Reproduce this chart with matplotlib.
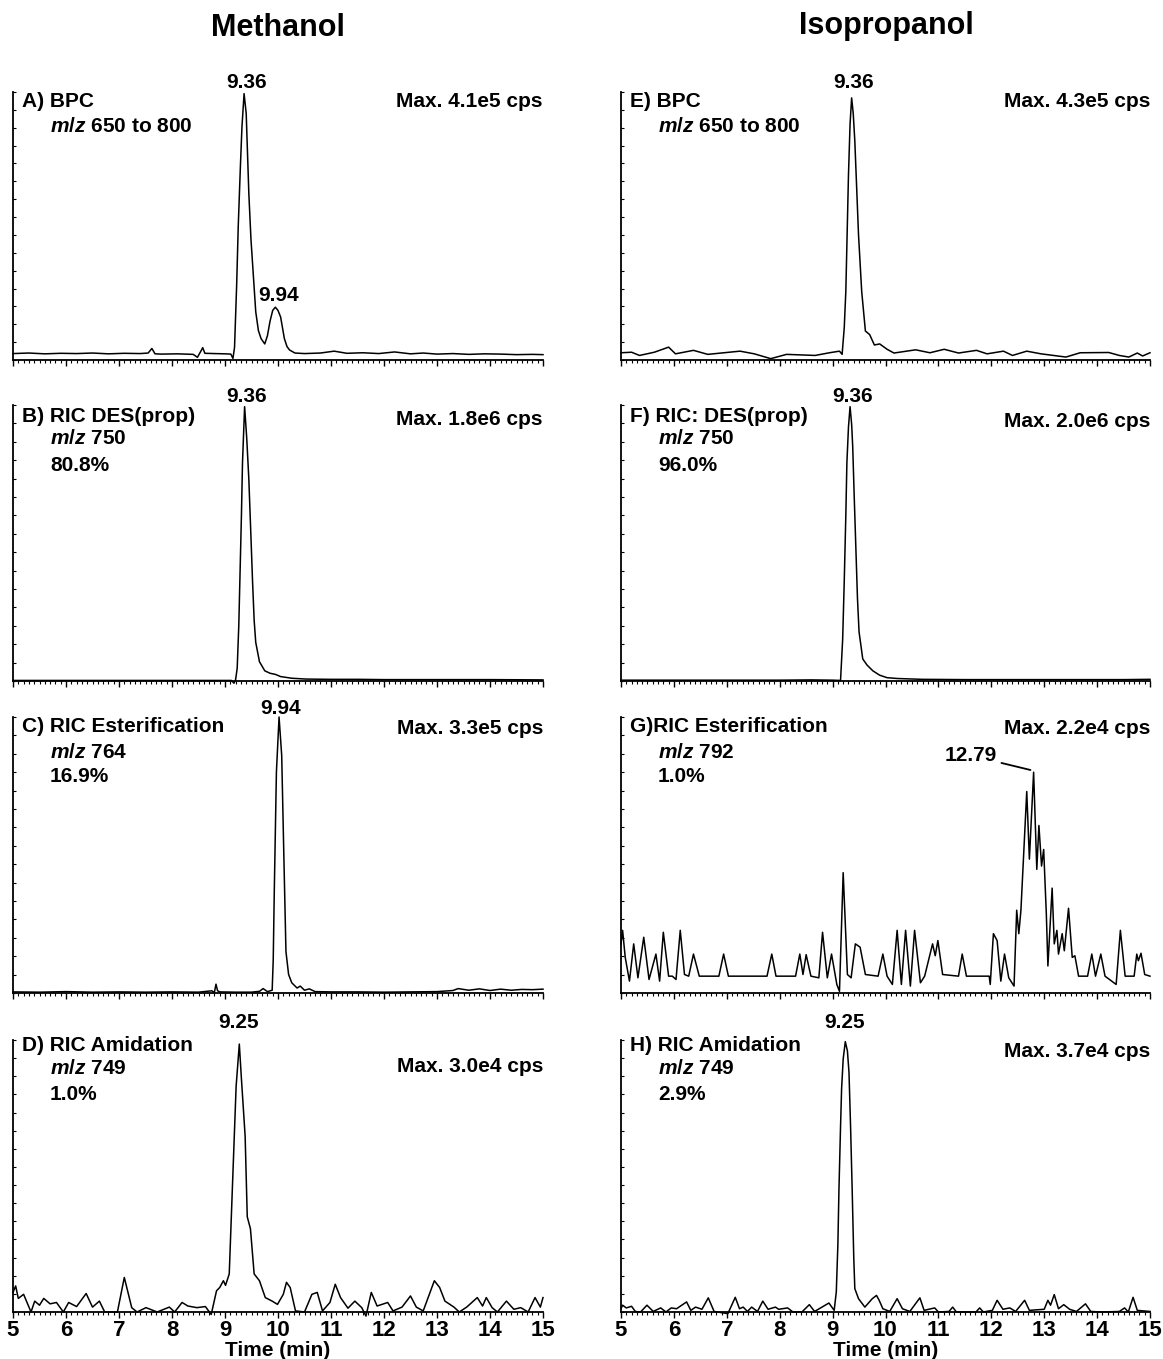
import numpy as np
import matplotlib
matplotlib.use("Agg")
import matplotlib.pyplot as plt
from matplotlib.ticker import MultipleLocator

plt.rcParams['font.family'] = ['Liberation Sans', 'DejaVu Sans']
plt.rcParams['font.weight'] = 'bold'
plt.rcParams['mathtext.fontset'] = 'custom'
plt.rcParams['mathtext.it'] = 'Liberation Sans:italic:bold'
plt.rcParams['mathtext.rm'] = 'Liberation Sans:bold'

# ---- data: time (min) and intensity (% of panel height) ----
# A) Methanol BPC
a_time = [5.0, 5.3, 5.6, 5.9, 6.2, 6.5, 6.8, 7.1, 7.4, 7.55, 7.62, 7.68, 7.8, 8.1, 8.4, 8.48, 8.55,
          8.58, 8.62, 8.8, 9.0, 9.11, 9.15, 9.18, 9.22, 9.25, 9.29, 9.32, 9.36, 9.40, 9.45, 9.49,
          9.53, 9.58, 9.63, 9.68, 9.75, 9.8, 9.85, 9.9, 9.95, 10.0, 10.05, 10.12, 10.17, 10.22,
          10.32, 10.5, 10.8, 11.06, 11.3, 11.6, 11.9, 12.2, 12.5, 12.74, 13.0, 13.3, 13.6, 13.9,
          14.2, 14.5, 14.8, 15.0]
a_int = [2.4, 2.6, 2.3, 2.5, 2.4, 2.6, 2.3, 2.5, 2.4, 2.6, 4.3, 2.3, 2.2, 2.3, 2.1, 1.0, 3.5,
         4.6, 2.5, 2.4, 2.3, 2.2, 0.6, 4.7, 28, 50, 72, 87, 99.4, 92, 62, 45,
         33, 18, 11, 8, 6, 9, 14.5, 18.5, 19.7, 18.5, 16, 8, 5, 3.7,
         2.6, 2.4, 2.6, 3.3, 2.5, 2.7, 2.4, 3.0, 2.3, 2.6, 2.2, 2.4, 2.1, 2.3,
         2.2, 2.0, 2.1, 2.0]

# B) Methanol RIC DES(prop)
b_time = [5.0, 6.0, 7.0, 8.0, 9.0, 9.12, 9.17, 9.2, 9.23, 9.26, 9.28, 9.31, 9.33, 9.37, 9.41,
          9.45, 9.49, 9.52, 9.55, 9.58, 9.65, 9.75, 9.85, 9.95, 10.05, 10.26, 10.53, 11.0, 11.5,
          12.0, 13.0, 14.0, 15.0]
b_int = [0.2, 0.2, 0.2, 0.2, 0.2, 0.2, -0.8, 0.5, 4.6, 20, 36, 60, 79, 99.4, 88,
         73, 52, 36, 22, 14, 7, 3.7, 2.8, 2.4, 1.6, 1.0, 0.7, 0.6, 0.6,
         0.5, 0.5, 0.5, 0.4]

# C) Methanol RIC Esterification
c_time = [5.0, 5.5, 6.0, 6.5, 7.0, 7.5, 8.0, 8.5, 8.75, 8.8, 8.83, 8.86, 8.9, 9.2, 9.5, 9.65,
          9.72, 9.8, 9.89, 9.91, 9.93, 9.97, 10.02, 10.07, 10.11, 10.15, 10.2, 10.26, 10.36,
          10.42, 10.5, 10.59, 10.7, 11.0, 11.5, 12.0, 12.5, 13.0, 13.3, 13.4, 13.6, 13.8, 14.0,
          14.2, 14.4, 14.6, 14.8, 15.0]
c_int = [0.4, 0.3, 0.5, 0.3, 0.4, 0.3, 0.4, 0.3, 0.8, 0.2, 3.2, 0.8, 0.4, 0.3, 0.3, 0.6,
         1.6, 0.5, 1.0, 12, 37, 80, 100, 86, 50, 15, 6.7, 3.7, 1.8,
         2.5, 1.0, 1.5, 0.5, 0.4, 0.4, 0.3, 0.4, 0.5, 0.9, 1.6, 1.0, 1.5, 0.9,
         1.4, 1.0, 1.3, 1.2, 1.4]

# D) Methanol RIC Amidation
d_time = [5.0, 5.05, 5.1, 5.2, 5.34, 5.41, 5.5, 5.58, 5.7, 5.82, 5.95, 6.05, 6.2, 6.38, 6.5,
          6.63, 6.73, 6.97, 7.1, 7.24, 7.34, 7.51, 7.72, 7.95, 8.05, 8.19, 8.3, 8.47, 8.63,
          8.74, 8.84, 8.9, 8.97, 9.01, 9.08, 9.14, 9.21, 9.27, 9.31, 9.38, 9.42, 9.48, 9.55,
          9.65, 9.76, 9.89, 9.99, 10.1, 10.16, 10.23, 10.33, 10.5, 10.64, 10.74, 10.84, 10.98,
          11.08, 11.18, 11.32, 11.45, 11.58, 11.66, 11.76, 11.87, 12.07, 12.17, 12.34, 12.5,
          12.61, 12.74, 12.95, 13.05, 13.15, 13.32, 13.42, 13.56, 13.76, 13.86, 13.93, 14.04,
          14.14, 14.31, 14.45, 14.58, 14.72, 14.85, 14.95, 15.0]
d_int = [7.2, 9.6, 5.0, 6.5, 0.0, 4.0, 2.5, 5.0, 3.0, 3.5, 0.0, 3.5, 2.0, 6.8, 1.8,
         4.0, 0.0, 0.0, 12.7, 1.6, 0.0, 1.6, 0.0, 1.8, 0.0, 3.5, 2.2, 1.6, 2.0,
         -0.9, 7.8, 9.0, 11.5, 9.8, 14.0, 46, 83, 98.5, 85.7, 64.6, 35, 30.6, 14.0,
         11.5, 5.3, 4.0, 2.8, 6.5, 10.9, 9.0, 0.4, 0.0, 6.5, 7.2, 0.4, 3.5,
         10.2, 5.3, 1.4, 4.0, 1.6, -1.5, 7.2, 2.2, 3.5, 0.4, 1.8, 5.9,
         1.8, 0.4, 11.5, 9.0, 4.0, 1.8, 0.0, 1.8, 5.3, 2.2, 5.3, 1.6,
         0.0, 4.0, 1.0, 1.6, 0.0, 5.3, 1.8, 5.3]

# E) Isopropanol BPC
e_time = [5.0, 5.2, 5.35, 5.63, 5.9, 6.03, 6.37, 6.64, 7.25, 7.52, 7.83, 8.13, 8.67, 8.94,
          9.13, 9.18, 9.22, 9.25, 9.3, 9.33, 9.36, 9.39, 9.42, 9.49, 9.55, 9.62, 9.7, 9.79,
          9.89, 10.03, 10.16, 10.57, 10.84, 11.11, 11.38, 11.72, 11.92, 12.23, 12.4, 12.67,
          12.94, 13.41, 13.68, 14.22, 14.42, 14.6, 14.76, 14.86, 15.0]
e_int = [2.7, 2.9, 1.7, 2.9, 4.8, 2.3, 3.6, 2.1, 3.3, 2.3, 0.5, 2.1, 1.7, 2.7,
         3.3, 2.1, 12, 25.6, 69, 88, 97.8, 92, 81.7, 46.7, 25.6, 10.8, 9.5, 5.6,
         6.0, 4.0, 2.6, 3.8, 2.7, 4.0, 2.6, 3.6, 2.3, 3.3, 1.7, 3.3,
         2.3, 1.1, 2.7, 2.8, 1.7, 1.1, 2.6, 1.5, 2.7]

# F) Isopropanol RIC DES(prop)
f_time = [5.0, 6.0, 7.0, 8.0, 8.6, 9.0, 9.15, 9.19, 9.22, 9.25, 9.27, 9.3, 9.33, 9.36, 9.38,
          9.41, 9.44, 9.47, 9.5, 9.57, 9.65, 9.76, 9.89, 10.03, 10.23, 10.7, 11.5, 12.5, 13.5,
          14.5, 15.0]
f_int = [0.3, 0.3, 0.3, 0.3, 0.4, 0.3, 0.2, 15, 36, 60, 79, 92, 99.4, 93, 85,
         66, 48, 30, 17.8, 8.0, 5.8, 3.7, 2.1, 1.2, 0.9, 0.6, 0.5, 0.5, 0.5,
         0.5, 0.6]

# G) Isopropanol RIC Esterification
g_time = [5.0, 5.03, 5.08, 5.16, 5.24, 5.32, 5.43, 5.53, 5.66, 5.73, 5.8, 5.9, 5.97, 6.04,
          6.12, 6.2, 6.28, 6.37, 6.48, 6.85, 6.94, 7.03, 7.76, 7.85, 7.93, 8.3, 8.38, 8.44,
          8.5, 8.59, 8.74, 8.81, 8.9, 8.98, 9.08, 9.13, 9.2, 9.28, 9.35, 9.43, 9.52, 9.62,
          9.86, 9.95, 10.03, 10.13, 10.22, 10.3, 10.38, 10.47, 10.55, 10.66, 10.74, 10.89,
          10.94, 10.99, 11.08, 11.38, 11.45, 11.53, 11.96, 11.98, 12.04, 12.11, 12.18, 12.25,
          12.33, 12.43, 12.48, 12.52, 12.56, 12.67, 12.72, 12.8, 12.86, 12.9, 12.95, 12.99,
          13.04, 13.07, 13.15, 13.19, 13.24, 13.27, 13.34, 13.38, 13.46, 13.53, 13.58, 13.65,
          13.82, 13.9, 13.97, 14.07, 14.15, 14.36, 14.44, 14.53, 14.7, 14.75, 14.78, 14.83,
          14.9, 15.0]
g_int = [17.8, 22.7, 12.9, 4.3, 17.8, 5.5, 20.2, 4.9, 14.1, 4.3, 22.0, 6.1, 6.1, 4.9,
         22.7, 6.7, 6.1, 14.1, 6.1, 6.1, 14.1, 6.1, 6.1, 14.1, 6.1, 6.1, 14.1, 6.7,
         13.9, 6.1, 5.5, 22.0, 5.5, 14.1, 3.1, 0.6, 43.6, 6.7, 5.5, 17.8, 16.6, 6.7,
         6.1, 14.1, 6.1, 3.1, 22.7, 3.1, 22.7, 2.5, 22.7, 3.7, 6.1, 17.8,
         13.5, 19.0, 6.7, 6.1, 14.1, 6.1, 6.1, 3.1, 21.5, 19.0, 4.3, 14.1,
         5.5, 2.5, 30.0, 21.5, 30.0, 73.0, 48.5, 80.0, 44.8, 60.7, 46.0, 52.0,
         28.8, 9.8, 38.0, 17.8, 22.7, 14.1, 21.5, 15.3, 30.7, 12.9, 13.5, 6.1,
         6.1, 14.1, 6.1, 14.1, 6.1, 3.1, 22.7, 6.1, 6.1, 14.1, 11.7, 14.4,
         6.7, 6.1]

# H) Isopropanol RIC Amidation
h_time = [5.0, 5.03, 5.1, 5.2, 5.27, 5.37, 5.49, 5.61, 5.75, 5.85, 5.95, 6.05, 6.24, 6.32,
          6.41, 6.53, 6.65, 6.76, 7.02, 7.16, 7.24, 7.31, 7.39, 7.47, 7.58, 7.68, 7.78, 7.92,
          7.98, 8.15, 8.25, 8.42, 8.56, 8.66, 8.93, 9.03, 9.07, 9.1, 9.12, 9.15, 9.17, 9.2,
          9.24, 9.28, 9.31, 9.34, 9.37, 9.4, 9.42, 9.49, 9.61, 9.75, 9.83, 9.88, 9.95, 10.08,
          10.22, 10.32, 10.46, 10.65, 10.73, 10.93, 11.0, 11.2, 11.27, 11.34, 11.71, 11.78,
          11.85, 12.02, 12.11, 12.22, 12.35, 12.46, 12.63, 12.72, 13.0, 13.07, 13.12, 13.19,
          13.27, 13.37, 13.48, 13.61, 13.78, 13.88, 14.08, 14.42, 14.52, 14.59, 14.68, 14.76,
          15.0]
h_int = [1.2, 2.5, 1.5, 2.1, 0.2, 0.0, 2.5, 0.2, 1.5, 0.0, 1.5, 1.2, 3.7, 0.6,
         1.8, 1.0, 5.2, 0.2, -0.6, 5.4, 1.2, 1.8, 0.2, 1.8, 0.2, 4.0, 1.0, 1.8,
         1.0, 1.5, 0.0, 0.0, 2.7, 0.2, 3.3, 0.6, 7.4, 25, 45, 68, 82, 93,
         99.4, 96, 88, 68, 45, 20, 8.6, 4.9, 1.8, 4.9, 6.1, 4.3, 1.2, 0.2,
         4.9, 1.2, 0.2, 5.2, 0.6, 1.5, 0.0, 0.2, 1.8, 0.0, 0.0, 1.5,
         0.0, 0.6, 4.3, 1.0, 1.5, 0.2, 4.3, 0.6, 1.0, 4.3, 2.5, 6.4,
         1.2, 2.7, 1.0, 0.2, 3.0, 0.2, 0.0, 0.2, 1.5, 0.0, 5.4, 0.6,
         0.2]

traces = [(a_time, a_int), (b_time, b_int), (c_time, c_int), (d_time, d_int),
          (e_time, e_int), (f_time, f_int), (g_time, g_int), (h_time, h_int)]

# ---- text for each panel ----
label_lines = [
    ["A) BPC", "$m/z$ 650 to 800"],
    ["B) RIC DES(prop)", "$m/z$ 750", "80.8%"],
    ["C) RIC Esterification", "$m/z$ 764", "16.9%"],
    ["D) RIC Amidation", "$m/z$ 749", "1.0%"],
    ["E) BPC", "$m/z$ 650 to 800"],
    ["F) RIC: DES(prop)", "$m/z$ 750", "96.0%"],
    ["G)RIC Esterification", "$m/z$ 792", "1.0%"],
    ["H) RIC Amidation", "$m/z$ 749", "2.9%"],
]
max_texts = ["Max. 4.1e5 cps", "Max. 1.8e6 cps", "Max. 3.3e5 cps", "Max. 3.0e4 cps",
             "Max. 4.3e5 cps", "Max. 2.0e6 cps", "Max. 2.2e4 cps", "Max. 3.7e4 cps"]
# peak labels: (text, time, height)
peak_labels = [
    [("9.36", 9.40, 103.4), ("9.94", 10.02, 23.9)],
    [("9.36", 9.40, 102.9)],
    [("9.94", 10.04, 102.9)],
    [("9.25", 9.25, 106.3)],
    [("9.36", 9.39, 103.4)],
    [("9.36", 9.37, 102.9)],
    [],
    [("9.25", 9.23, 106.3)],
]
col_titles = ["Methanol", "Isopropanol"]

# ---- layout (figure fractions) ----
W, H = 1163, 1359
col_left = [13 / W, 621 / W]
col_width = [530 / W, 529 / W]
row_px = [(92, 360), (405, 681), (717, 993), (1040, 1312)]
line_y = [
    [0.966, 0.873],
    [0.960, 0.877, 0.779],
    [0.967, 0.873, 0.783],
    [0.978, 0.897, 0.801],
]
max_y = [0.966, 0.949, 0.960, 0.901, 0.966, 0.942, 0.960, 0.956]
FS = 15

fig = plt.figure(figsize=(W / 100, H / 100), dpi=100)

for i, (t, v) in enumerate(traces):
    col, row = divmod(i, 4)
    top, bot = row_px[row]
    ax = fig.add_axes([col_left[col], 1 - bot / H, col_width[col], (bot - top) / H])
    ax.plot(t, v, color='black', lw=1.1, clip_on=False)
    ax.set_xlim(5, 15)
    ax.set_ylim(0, 100)
    for s in ['top', 'right']:
        ax.spines[s].set_visible(False)
    for s in ['left', 'bottom']:
        ax.spines[s].set_linewidth(1.3)

    ax.xaxis.set_major_locator(MultipleLocator(1))
    ax.xaxis.set_minor_locator(MultipleLocator(0.1))
    ax.yaxis.set_major_locator(MultipleLocator(100 / 15))
    ax.tick_params(axis='x', which='major', direction='out', length=4, width=1, labelsize=16, pad=2)
    ax.tick_params(axis='x', which='minor', direction='out', length=2.5, width=0.8)
    ax.tick_params(axis='y', which='major', direction='in', length=2.5, width=0.8, labelleft=False)
    if row < 3:
        ax.tick_params(axis='x', labelbottom=False)
    else:
        ax.set_xlabel("Time (min)", fontsize=15, fontweight='bold', labelpad=0)
        for lab in ax.get_xticklabels():
            lab.set_fontweight('bold')

    lines = label_lines[i]
    for k, txt in enumerate(lines):
        x0 = 0.017 if k == 0 else 0.07
        ax.text(x0, line_y[row][k], txt, transform=ax.transAxes, fontsize=FS,
                fontweight='bold', ha='left', va='center')
    ax.text(1.0, max_y[i], max_texts[i], transform=ax.transAxes, fontsize=FS,
            fontweight='bold', ha='right', va='center')

    for txt, px, py in peak_labels[i]:
        ax.text(px, py, txt, fontsize=FS, fontweight='bold', ha='center', va='center',
                clip_on=False)

    if i == 6:
        ax.annotate("12.79", xy=(12.74, 80.8), xytext=(11.62, 86.0), fontsize=FS,
                    fontweight='bold', ha='center', va='center',
                    arrowprops=dict(arrowstyle='-', lw=1.3, color='black',
                                    shrinkA=1, shrinkB=0))

fig.text(278 / W, 1 - 28 / H, col_titles[0], fontsize=22, fontweight='bold',
         ha='center', va='center')
fig.text(886 / W, 1 - 26 / H, col_titles[1], fontsize=22, fontweight='bold',
         ha='center', va='center')

fig.savefig("out.png", dpi=100)
